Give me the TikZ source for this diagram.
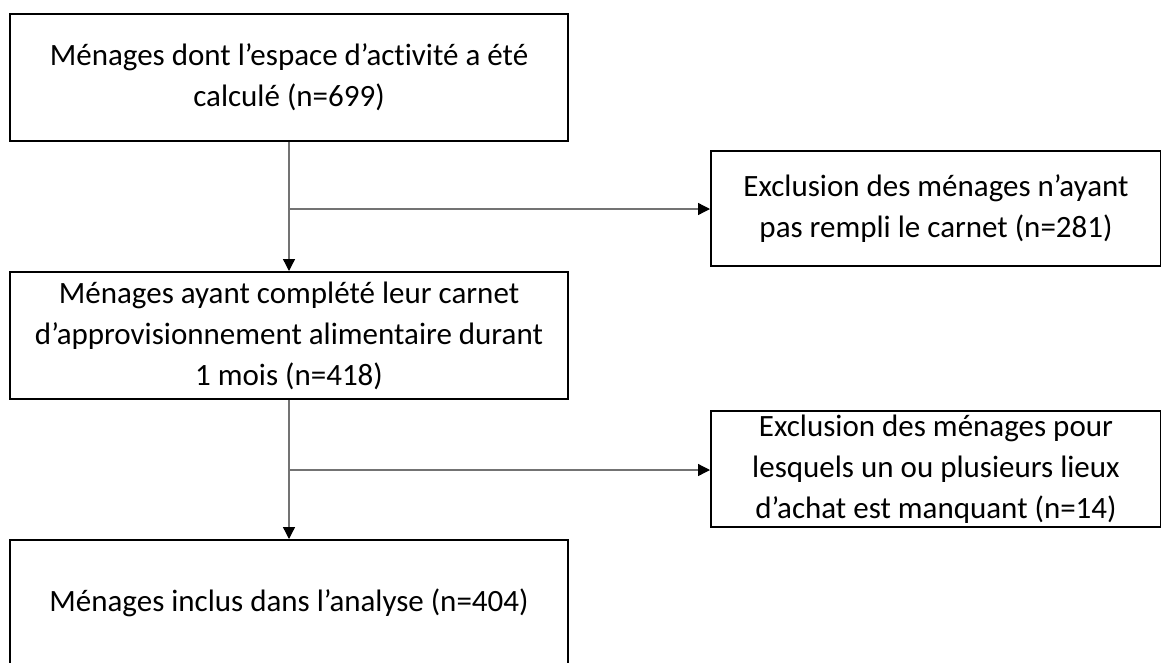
\documentclass[tikz,border=0pt]{standalone}
\usepackage{fontspec}
\setmainfont{Carlito}[Ligatures=NoCommon]
\usetikzlibrary{arrows.meta}
\begin{document}
\begin{tikzpicture}[x=1pt,y=-1pt,
  boxstyle/.style={draw=black,line width=2pt,rectangle,inner sep=0pt,align=center,
    font=\fontsize{31}{41}\selectfont,text=black},
  conn/.style={draw=black!55,line width=1.3pt,-{Triangle[length=12pt,width=12pt,fill=black,color=black]}}]
\useasboundingbox (0,0) rectangle (1161,662);
\fill[white] (0,0) rectangle (1161,662);
\node[boxstyle,minimum width=558pt,minimum height=127pt] (b1) at (289,77.5)
  {Ménages dont l’espace d’activité a été\\calculé (n=699)};
\node[boxstyle,minimum width=558pt,minimum height=127pt] (b2) at (289,335.5)
  {Ménages ayant complété leur carnet\\d’approvisionnement\ alimentaire durant\\1 mois (n=418)};
\node[boxstyle,minimum width=558pt,minimum height=126pt] (b3) at (289,603)
  {Ménages inclus dans l’analyse (n=404)};
\node[boxstyle,minimum width=450pt,minimum height=115pt] (e1) at (936,208.5)
  {Exclusion des ménages n’ayant\\pas rempli le carnet (n=281)};
\node[boxstyle,minimum width=450pt,minimum height=116pt] (e2) at (936,469)
  {Exclusion des ménages pour\\lesquels un ou plusieurs lieux\\d’achat est manquant (n=14)};
\draw[conn] (b1.south) -- (b2.north);
\draw[conn] (b2.south) -- (b3.north);
\coordinate (j1) at (b1.south |- 0,209);
\coordinate (j2) at (b2.south |- 0,470);
\draw[conn] (j1) -- (j1 -| e1.west);
\draw[conn] (j2) -- (j2 -| e2.west);
\end{tikzpicture}
\end{document}
